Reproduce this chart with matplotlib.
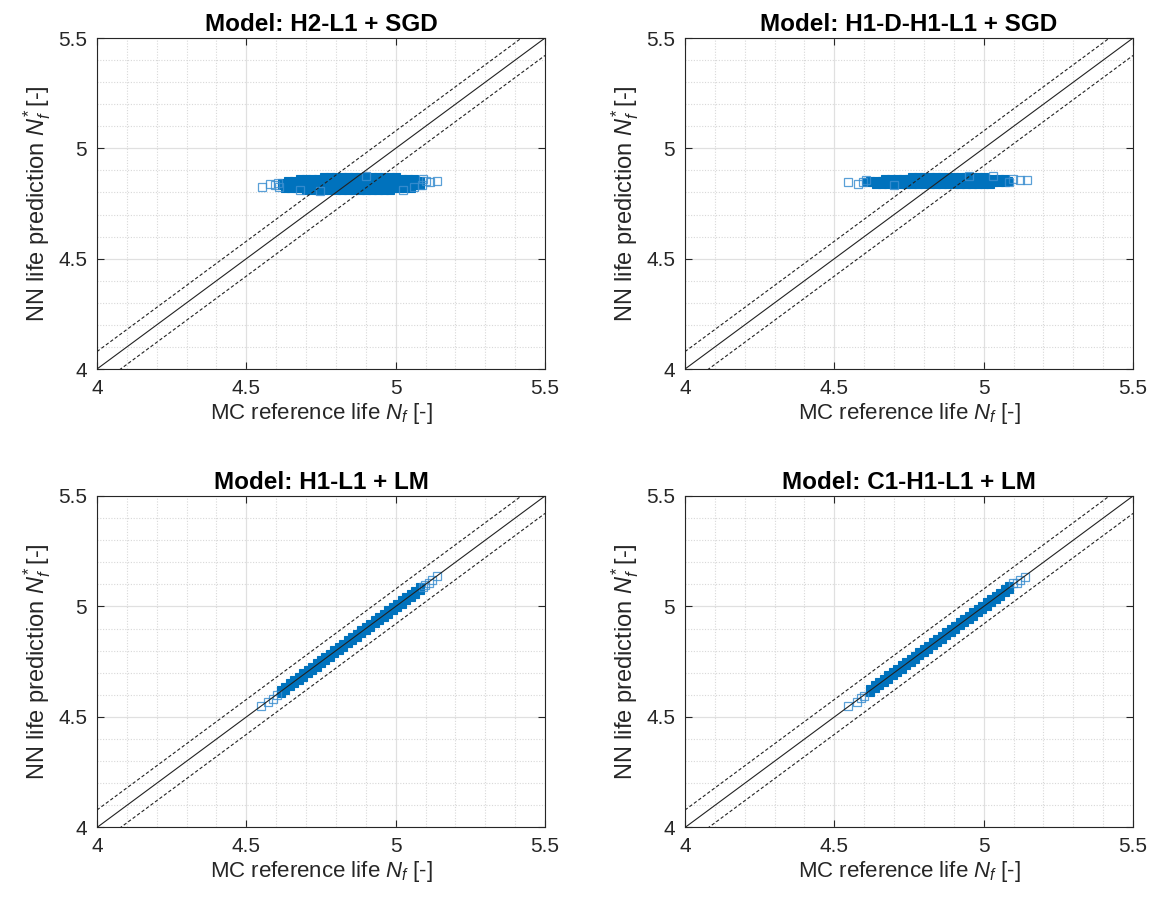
import matplotlib
matplotlib.use("Agg")
import matplotlib.pyplot as plt
from matplotlib.ticker import MultipleLocator, FixedLocator

plt.rcParams['font.family'] = ['Liberation Sans', 'DejaVu Sans']
plt.rcParams['mathtext.fontset'] = 'custom'
plt.rcParams['mathtext.rm'] = 'Liberation Sans'
plt.rcParams['mathtext.it'] = 'Liberation Sans:italic'

# ---------------- data ----------------
titles = ["Model: H2-L1 + SGD", "Model: H1-D-H1-L1 + SGD",
          "Model: H1-L1 + LM", "Model: C1-H1-L1 + LM"]
ticks = [4, 4.5, 5, 5.5]
tick_labels = ["4", "4.5", "5", "5.5"]
band_offset = 0.079  # log10(1.2) scatter band

# Top-left: dense core (rows of y with x positions)
tl_rows_y = [4.812, 4.822, 4.832, 4.842, 4.852, 4.862, 4.870]
tl_rows_x = [
    [4.70, 4.72, 4.74, 4.76, 4.78, 4.80, 4.82, 4.84, 4.86, 4.88, 4.90, 4.92, 4.94, 4.96, 4.98],
    [4.63, 4.65, 4.67, 4.69, 4.71, 4.73, 4.75, 4.77, 4.79, 4.81, 4.83, 4.85, 4.87, 4.89, 4.91, 4.93, 4.95, 4.97, 4.99, 5.01, 5.03, 5.05],
    [4.62, 4.64, 4.66, 4.68, 4.70, 4.72, 4.74, 4.76, 4.78, 4.80, 4.82, 4.84, 4.86, 4.88, 4.90, 4.92, 4.94, 4.96, 4.98, 5.00, 5.02, 5.04, 5.06, 5.08],
    [4.62, 4.64, 4.66, 4.68, 4.70, 4.72, 4.74, 4.76, 4.78, 4.80, 4.82, 4.84, 4.86, 4.88, 4.90, 4.92, 4.94, 4.96, 4.98, 5.00, 5.02, 5.04, 5.06, 5.08],
    [4.64, 4.66, 4.68, 4.70, 4.72, 4.74, 4.76, 4.78, 4.80, 4.82, 4.84, 4.86, 4.88, 4.90, 4.92, 4.94, 4.96, 4.98, 5.00, 5.02, 5.04, 5.06, 5.08],
    [4.68, 4.70, 4.72, 4.74, 4.76, 4.78, 4.80, 4.82, 4.84, 4.86, 4.88, 4.90, 4.92, 4.94, 4.96, 4.98, 5.00, 5.02, 5.04, 5.06],
    [4.76, 4.78, 4.80, 4.82, 4.84, 4.86, 4.88, 4.90, 4.92, 4.94, 4.96, 4.98, 5.00],
]
tl_out_x = [4.551, 4.579, 4.595, 4.605, 4.610, 4.68, 4.747, 4.90, 5.025, 5.06, 5.087, 5.093, 5.100, 5.115, 5.137]
tl_out_y = [4.825, 4.840, 4.832, 4.845, 4.825, 4.812, 4.806, 4.874, 4.813, 4.825, 4.833, 4.862, 4.852, 4.848, 4.852]

# Top-right: dense core
tr_rows_y = [4.838, 4.846, 4.854, 4.862, 4.870]
tr_rows_x = [
    [4.64, 4.66, 4.68, 4.70, 4.72, 4.74, 4.76, 4.78, 4.80, 4.82, 4.84, 4.86, 4.88, 4.90, 4.92, 4.94, 4.96, 4.98, 5.00, 5.02],
    [4.61, 4.63, 4.65, 4.67, 4.69, 4.71, 4.73, 4.75, 4.77, 4.79, 4.81, 4.83, 4.85, 4.87, 4.89, 4.91, 4.93, 4.95, 4.97, 4.99, 5.01, 5.03, 5.05, 5.07],
    [4.62, 4.64, 4.66, 4.68, 4.70, 4.72, 4.74, 4.76, 4.78, 4.80, 4.82, 4.84, 4.86, 4.88, 4.90, 4.92, 4.94, 4.96, 4.98, 5.00, 5.02, 5.04, 5.06, 5.08],
    [4.67, 4.69, 4.71, 4.73, 4.75, 4.77, 4.79, 4.81, 4.83, 4.85, 4.87, 4.89, 4.91, 4.93, 4.95, 4.97, 4.99, 5.01, 5.03, 5.05, 5.07],
    [4.76, 4.78, 4.80, 4.82, 4.84, 4.86, 4.88, 4.90, 4.92, 4.94, 4.96, 4.98, 5.00],
]
tr_out_x = [4.547, 4.580, 4.597, 4.605, 4.70, 4.95, 5.032, 5.085, 5.099, 5.121, 5.144]
tr_out_y = [4.848, 4.840, 4.848, 4.856, 4.832, 4.877, 4.877, 4.846, 4.862, 4.858, 4.855]

# Bottom-left: dense core along the diagonal (two bands of points)
bl_core_x = [4.615, 4.630, 4.645, 4.660, 4.675, 4.690, 4.705, 4.720, 4.735, 4.750, 4.765, 4.780, 4.795, 4.810, 4.825, 4.840,
             4.855, 4.870, 4.885, 4.900, 4.915, 4.930, 4.945, 4.960, 4.975, 4.990, 5.005, 5.020, 5.035, 5.050, 5.065, 5.080]
bl_core_y_up = [4.622, 4.637, 4.652, 4.667, 4.682, 4.697, 4.712, 4.727, 4.742, 4.757, 4.772, 4.787, 4.802, 4.817, 4.832, 4.847,
                4.862, 4.877, 4.892, 4.907, 4.922, 4.937, 4.952, 4.967, 4.982, 4.997, 5.012, 5.027, 5.042, 5.057, 5.072, 5.087]
bl_core_y_lo = [4.608, 4.623, 4.638, 4.653, 4.668, 4.683, 4.698, 4.713, 4.728, 4.743, 4.758, 4.773, 4.788, 4.803, 4.818, 4.833,
                4.848, 4.863, 4.878, 4.893, 4.908, 4.923, 4.938, 4.953, 4.968, 4.983, 4.998, 5.013, 5.028, 5.043, 5.058, 5.073]
bl_out_x = [4.548, 4.574, 4.590, 4.602, 5.092, 5.098, 5.110, 5.120, 5.137]
bl_out_y = [4.548, 4.566, 4.581, 4.600, 5.090, 5.098, 5.105, 5.120, 5.140]

# Bottom-right: dense core along the diagonal
br_core_x = [4.620, 4.635, 4.650, 4.665, 4.680, 4.695, 4.710, 4.725, 4.740, 4.755, 4.770, 4.785, 4.800, 4.815, 4.830, 4.845,
             4.860, 4.875, 4.890, 4.905, 4.920, 4.935, 4.950, 4.965, 4.980, 4.995, 5.010, 5.025, 5.040, 5.055, 5.070, 5.085]
br_core_y_up = [4.628, 4.643, 4.658, 4.673, 4.688, 4.703, 4.718, 4.733, 4.748, 4.763, 4.778, 4.793, 4.808, 4.823, 4.838, 4.853,
                4.868, 4.883, 4.898, 4.913, 4.928, 4.943, 4.958, 4.973, 4.988, 5.003, 5.018, 5.033, 5.048, 5.063, 5.078, 5.092]
br_core_y_lo = [4.614, 4.629, 4.644, 4.659, 4.674, 4.689, 4.704, 4.719, 4.734, 4.749, 4.764, 4.779, 4.794, 4.809, 4.824, 4.839,
                4.854, 4.869, 4.884, 4.899, 4.914, 4.929, 4.944, 4.959, 4.974, 4.989, 5.004, 5.019, 5.034, 5.049, 5.064, 5.079]
br_out_x = [4.547, 4.575, 4.590, 4.600, 5.099, 5.110, 5.121, 5.138]
br_out_y = [4.548, 4.570, 4.585, 4.597, 5.105, 5.108, 5.120, 5.135]

# ---------------- plotting ----------------
BLUE = '#0072BD'
LIGHT = '#3d8fd0'
fig = plt.figure(figsize=(11.53, 8.97), dpi=100)
positions = [
    [0.0841, 0.5886, 0.3886, 0.369],
    [0.5941, 0.5886, 0.3886, 0.369],
    [0.0841, 0.0775, 0.3886, 0.3696],
    [0.5941, 0.0775, 0.3886, 0.3696],
]

core_sets = []
for ry, rx in [(tl_rows_y, tl_rows_x), (tr_rows_y, tr_rows_x)]:
    xs, ys = [], []
    for yv, xl in zip(ry, rx):
        xs.extend(xl)
        ys.extend([yv] * len(xl))
    core_sets.append((xs, ys))
core_sets.append((bl_core_x + bl_core_x, bl_core_y_up + bl_core_y_lo))
core_sets.append((br_core_x + br_core_x, br_core_y_up + br_core_y_lo))
out_sets = [(tl_out_x, tl_out_y), (tr_out_x, tr_out_y),
            (bl_out_x, bl_out_y), (br_out_x, br_out_y)]

ref = [4.0, 5.5]
MS = 6.0
for i in range(4):
    ax = fig.add_axes(positions[i])
    ax.set_xlim(4, 5.5)
    ax.set_ylim(4, 5.5)
    ax.xaxis.set_major_locator(FixedLocator(ticks))
    ax.yaxis.set_major_locator(FixedLocator(ticks))
    ax.set_xticklabels(tick_labels)
    ax.set_yticklabels(tick_labels)
    ax.xaxis.set_minor_locator(MultipleLocator(0.1))
    ax.yaxis.set_minor_locator(MultipleLocator(0.1))
    ax.grid(which='major', color='#e0e0e0', linewidth=0.9, linestyle='-')
    ax.grid(which='minor', color='#d8d8d8', linewidth=0.8, linestyle=(0, (1, 1.5)))
    ax.set_axisbelow(True)
    ax.tick_params(which='major', direction='in', length=5, width=0.8,
                   top=True, right=True, labelsize=15, colors='#262626',
                   pad=7)
    ax.tick_params(which='minor', length=0, top=True, right=True)
    for s in ax.spines.values():
        s.set_color('#262626')
        s.set_linewidth(0.8)

    xs, ys = core_sets[i]
    ax.plot(xs, ys, linestyle='none', marker='s', markersize=MS,
            markerfacecolor=BLUE, markeredgecolor=BLUE, markeredgewidth=0.8, zorder=3)
    ox, oy = out_sets[i]
    ax.plot(ox, oy, linestyle='none', marker='s', markersize=MS,
            markerfacecolor='none', markeredgecolor=LIGHT, markeredgewidth=0.9,
            alpha=0.85, zorder=3)

    ax.plot(ref, ref, color='#222222', linewidth=0.8, zorder=4)
    ax.plot(ref, [v + band_offset for v in ref], color='#222222', linewidth=0.8,
            linestyle=(0, (3, 2)), zorder=4)
    ax.plot(ref, [v - band_offset for v in ref], color='#222222', linewidth=0.8,
            linestyle=(0, (3, 2)), zorder=4)

    ax.set_title(titles[i], fontsize=17.5, fontweight='bold', pad=5)
    ax.set_xlabel(r'MC reference life $N_f$ [-]', fontsize=16, color='#262626', labelpad=2)
    ax.set_ylabel(r'NN life prediction $N_f^{*}\,$[-]', fontsize=17, color='#262626', labelpad=4)

fig.savefig('out.png', dpi=100)
